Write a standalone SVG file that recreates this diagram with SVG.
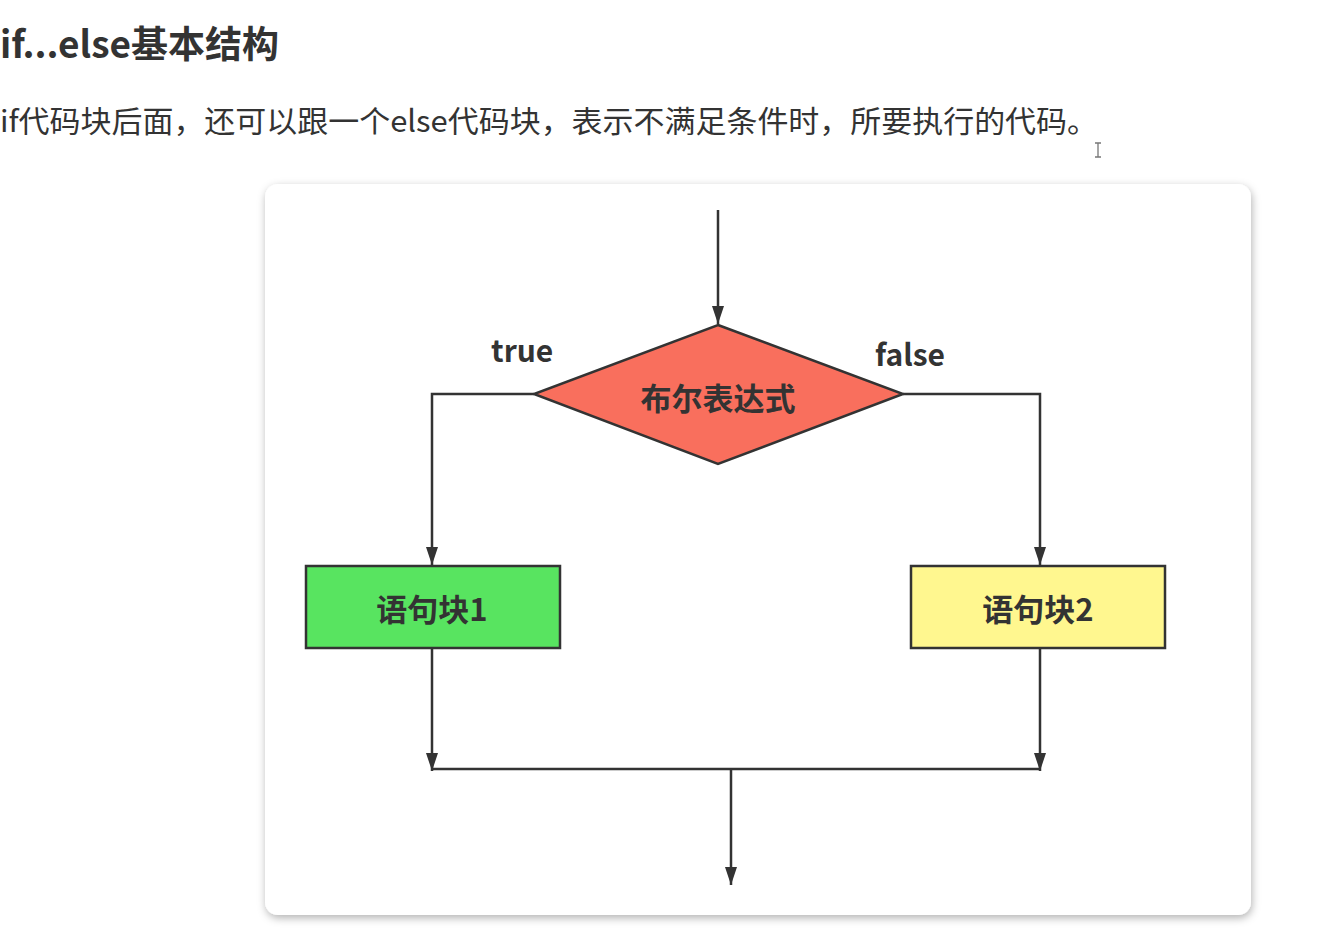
<svg xmlns="http://www.w3.org/2000/svg" width="1333" height="936" viewBox="0 0 1333 936">
<defs>
<filter id="sh" x="-5%" y="-5%" width="110%" height="112%">
<feDropShadow dx="1" dy="3" stdDeviation="4" flood-color="#000" flood-opacity="0.3"/>
</filter>
<marker id="arr" viewBox="0 0 18 12" refX="18" refY="6" markerWidth="18" markerHeight="12" markerUnits="userSpaceOnUse" orient="auto">
<path d="M0,0 L18,6 L0,12 Z" fill="#333"/>
</marker>
<style>
.t{font-family:"Noto Sans CJK SC","Noto Sans",sans-serif;fill:#333}
.h{font-size:37px;font-weight:bold}
.p{font-size:30px}
.lb{font-size:31px;font-weight:bold;text-anchor:middle;dominant-baseline:central}
.ed{font-size:30px;font-weight:bold}
.ln{fill:none;stroke:#333;stroke-width:2.5}
.nd{stroke:#333;stroke-width:2.5}
</style>
</defs>
<rect width="1333" height="936" fill="#fff"/>
<text class="t h" x="0" y="58">if...else基本结构</text>
<text class="t p" x="0" y="132" textLength="1098" lengthAdjust="spacingAndGlyphs">if代码块后面，还可以跟一个else代码块，表示不满足条件时，所要执行的代码。</text>
<g id="cursor" stroke="#777" stroke-width="1.3" fill="none">
<path d="M1095,143 H1101 M1098,143 V157 M1095,157 H1101"/>
</g>
<rect id="card" x="265" y="184" width="986" height="731" rx="13" fill="#fff" filter="url(#sh)"/>
<g id="connectors">
<path class="ln" d="M718,210 V324" marker-end="url(#arr)"/>
<path class="ln" d="M534,394 H432 V565" marker-end="url(#arr)"/>
<path class="ln" d="M903,394 H1040 V565" marker-end="url(#arr)"/>
<path class="ln" d="M432,648 V771" marker-end="url(#arr)"/>
<path class="ln" d="M1040,648 V771" marker-end="url(#arr)"/>
<path class="ln" d="M432,769 H1040"/>
<path class="ln" d="M731,769 V885" marker-end="url(#arr)"/>
</g>
<g id="labels">
<text class="t ed" x="491" y="362">true</text>
<text class="t ed" x="875" y="366">false</text>
</g>
<g id="decision">
<polygon class="nd" points="718,325 903,394 718,464 534,394" fill="#f96f5d"/>
<text class="t lb" x="718" y="396">布尔表达式</text>
</g>
<g id="block1">
<rect class="nd" x="306" y="566" width="254" height="82" fill="#58e460"/>
<text class="t lb" x="432" y="607">语句块1</text>
</g>
<g id="block2">
<rect class="nd" x="911" y="566" width="254" height="82" fill="#fff78f"/>
<text class="t lb" x="1038" y="607">语句块2</text>
</g>
</svg>
